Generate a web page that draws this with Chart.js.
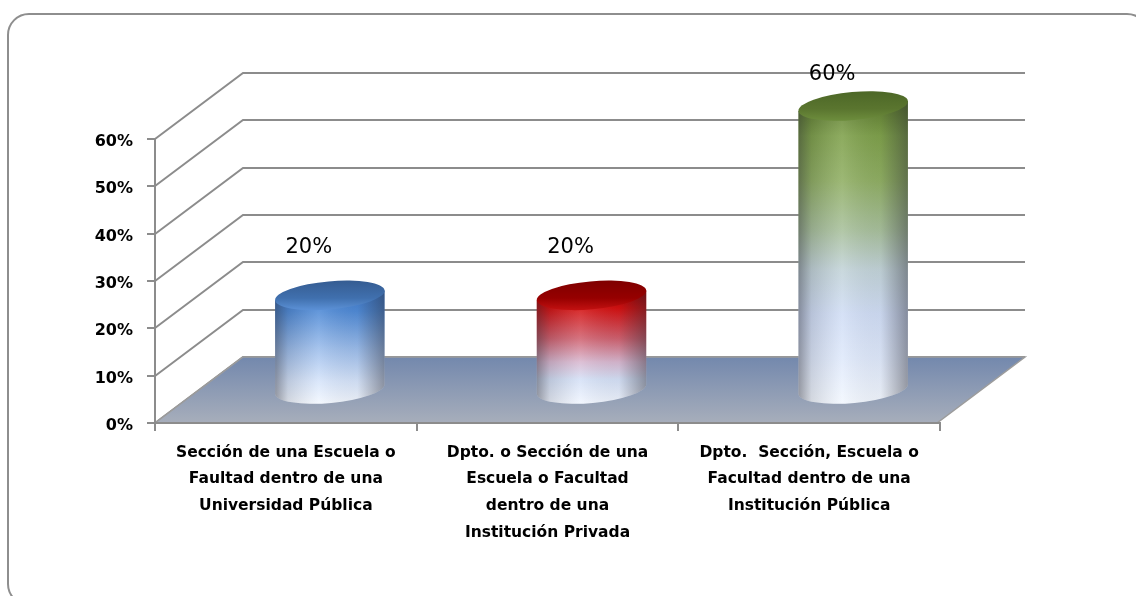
<!DOCTYPE html>
<html lang="es">
<head>
<meta charset="utf-8">
<title>Ubicación de la unidad</title>
<script src="https://cdn.jsdelivr.net/npm/chart.js@4.4.1/dist/chart.umd.min.js"></script>
<style>
    html, body { margin: 0; padding: 0; background: #fff; overflow: hidden; }
    #frame {
        position: absolute; left: 7px; top: 13px;
        width: 1138px; height: 589px;
        border: 2px solid #8e8e8e; border-radius: 22px;
    }
    #chart { position: absolute; left: 0; top: 0; }
</style>
</head>
<body>
<div id="frame"></div>
<canvas id="chart" width="1136" height="596"></canvas>
<script>
// datos del gráfico
const categories = [
    ['Sección de una Escuela o', 'Faultad dentro de una', 'Universidad Pública'],
    ['Dpto. o Sección de una', 'Escuela o Facultad', 'dentro de una', 'Institución Privada'],
    ['Dpto.  Sección, Escuela o', 'Facultad dentro de una', 'Institución Pública']
];
const values = [20, 20, 60];
const yMin = 0;
const yMax = 60;
const yStep = 10;

// estilo de cada cilindro (tapa y cuerpo)
const palettes = [
    {
        cap: ['#365d93', '#4070ae', '#5a8fd4'],
        body: [[0, '#3f7bcb'], [0.15, '#4f8ad6'], [0.5, '#9cbdeb'], [0.8, '#d6e4fa'], [1, '#f2f7fe']]
    },
    {
        cap: ['#800000', '#960000', '#c01010'],
        body: [[0, '#b00000'], [0.12, '#d40f0f'], [0.4, '#d0606e'], [0.62, '#d8b8d0'], [0.78, '#d4e0f6'], [1, '#f0f5fe']]
    },
    {
        cap: ['#4d6827', '#5a752f', '#6c8c3c'],
        body: [[0, '#5f7d30'], [0.1, '#7ea04a'], [0.25, '#8fae62'], [0.42, '#a8c09c'], [0.55, '#c2d3d8'],
               [0.7, '#d0ddf5'], [0.85, '#dfe9fb'], [1, '#f2f7fe']]
    }
];

const DEPTH_X = 88;   // desplazamiento de la pared del fondo
const DEPTH_Y = -66;
const GRID = '#8c8c8c';
const FONT = '"DejaVu Sans", sans-serif';

// pared del fondo, pared lateral y piso
const wallsPlugin = {
    id: 'walls',
    beforeDraw(chart) {
        const { ctx, chartArea: a, scales: { y } } = chart;
        ctx.save();
        ctx.strokeStyle = GRID;
        ctx.lineWidth = 2;
        for (let v = yMin; v <= yMax; v += yStep) {
            const py = Math.round(y.getPixelForValue(v));
            ctx.beginPath();
            ctx.moveTo(a.left, py);
            ctx.lineTo(a.left + DEPTH_X, py + DEPTH_Y);
            ctx.lineTo(a.right + DEPTH_X - 3, py + DEPTH_Y);
            ctx.stroke();
        }

        const fy = Math.round(y.getPixelForValue(0));
        const g = ctx.createLinearGradient(0, fy + DEPTH_Y, 0, fy);
        g.addColorStop(0, '#7388ad');
        g.addColorStop(1, '#a7aebb');
        ctx.beginPath();
        ctx.moveTo(a.left, fy);
        ctx.lineTo(a.left + DEPTH_X, fy + DEPTH_Y);
        ctx.lineTo(a.right + DEPTH_X - 3, fy + DEPTH_Y);
        ctx.lineTo(a.right - 3, fy);
        ctx.closePath();
        ctx.fillStyle = g;
        ctx.fill();
        ctx.strokeStyle = '#9c9c9c';
        ctx.lineWidth = 1.5;
        ctx.stroke();
        ctx.restore();
    }
};

// cilindros y etiquetas de valor
const cylinderPlugin = {
    id: 'cylinders',
    afterDatasetsDraw(chart) {
        const { ctx } = chart;
        const meta = chart.getDatasetMeta(0);
        const ry = 14;
        const rot = -0.09;

        meta.data.forEach((bar, i) => {
            const { x, y, base, width } = bar.getProps(['x', 'y', 'base', 'width'], true);
            const pal = palettes[i];
            const cx = x + DEPTH_X / 2;
            const topY = y + DEPTH_Y / 2;
            const botY = base + DEPTH_Y / 2;
            const rx = width / 2;
            const ox = rx * Math.cos(rot);
            const oy = rx * Math.sin(rot);

            ctx.save();
            // cuerpo
            ctx.beginPath();
            ctx.moveTo(cx - ox, topY - oy);
            ctx.lineTo(cx - ox, botY - oy);
            ctx.ellipse(cx, botY, rx, ry, rot, Math.PI, 0, true);
            ctx.lineTo(cx + ox, topY + oy);
            ctx.closePath();

            const vg = ctx.createLinearGradient(0, topY, 0, botY + ry);
            pal.body.forEach(([stop, c]) => vg.addColorStop(stop, c));
            ctx.fillStyle = vg;
            ctx.fill();

            const hg = ctx.createLinearGradient(cx - rx, 0, cx + rx, 0);
            hg.addColorStop(0, 'rgba(40,40,50,0.45)');
            hg.addColorStop(0.12, 'rgba(40,40,50,0.15)');
            hg.addColorStop(0.4, 'rgba(255,255,255,0.12)');
            hg.addColorStop(0.75, 'rgba(40,40,50,0.05)');
            hg.addColorStop(1, 'rgba(40,40,50,0.45)');
            ctx.fillStyle = hg;
            ctx.fill();

            // tapa
            ctx.beginPath();
            ctx.ellipse(cx, topY, rx, ry, rot, 0, Math.PI * 2);
            const cg = ctx.createLinearGradient(0, topY - ry, 0, topY + ry);
            cg.addColorStop(0, pal.cap[0]);
            cg.addColorStop(0.6, pal.cap[1]);
            cg.addColorStop(1, pal.cap[2]);
            ctx.fillStyle = cg;
            ctx.fill();

            // etiqueta
            const ly = base - (base - y) * 0.91 - 89.6;
            ctx.fillStyle = '#000';
            ctx.font = '21px ' + FONT;
            ctx.textAlign = 'center';
            ctx.textBaseline = 'middle';
            ctx.fillText(values[i] + '%', x + 23, ly);
            ctx.restore();
        });
    }
};

new Chart(document.getElementById('chart'), {
    type: 'bar',
    data: {
        labels: categories,
        datasets: [{
            data: values,
            backgroundColor: 'rgba(0,0,0,0)',
            borderWidth: 0,
            barPercentage: 1,
            categoryPercentage: 0.42
        }]
    },
    options: {
        responsive: false,
        animation: false,
        devicePixelRatio: 1,
        layout: { padding: { left: 0, top: 139, right: 196, bottom: 0 } },
        plugins: {
            legend: { display: false },
            tooltip: { enabled: false }
        },
        scales: {
            x: {
                offset: true,
                grid: { offset: true, drawOnChartArea: false, tickLength: 8, color: GRID, lineWidth: 2 },
                border: { display: true, color: GRID, width: 2 },
                ticks: {
                    autoSkip: false,
                    maxRotation: 0,
                    padding: 8,
                    color: '#000',
                    font: { family: FONT, size: 15.5, weight: 'bold', lineHeight: 1.74 }
                },
                afterFit(scale) {
                    scale.height = 173;
                    scale.paddingLeft = 0;
                    scale.paddingRight = 0;
                }
            },
            y: {
                min: yMin,
                max: yMax,
                grid: { drawOnChartArea: false, tickLength: 8, color: GRID, lineWidth: 2 },
                border: { display: true, color: GRID, width: 2 },
                ticks: {
                    stepSize: yStep,
                    padding: 14,
                    labelOffset: 3,
                    color: '#000',
                    font: { family: FONT, size: 16, weight: 'bold' },
                    callback: v => v + '%'
                },
                afterFit(scale) {
                    scale.width = 155;
                    scale.paddingTop = 0;
                    scale.paddingBottom = 0;
                }
            }
        }
    },
    plugins: [wallsPlugin, cylinderPlugin]
});
</script>
</body>
</html>
